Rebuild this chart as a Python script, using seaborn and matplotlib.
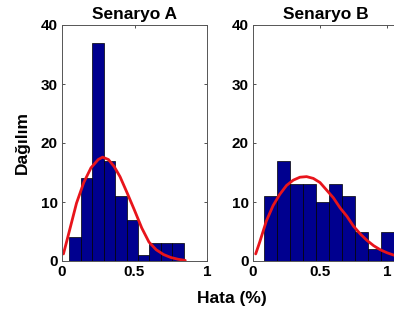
import numpy as np
import matplotlib
matplotlib.use("Agg")
import matplotlib.pyplot as plt
import seaborn as sns

# histogram data (10 bins each, counts)
edges_a = [0.051, 0.130, 0.209, 0.287, 0.366, 0.445, 0.524, 0.602, 0.681, 0.760, 0.839]
counts_a = [4, 14, 37, 17, 11, 7, 1, 3, 3, 3]

edges_b = [0.084, 0.181, 0.278, 0.375, 0.472, 0.569, 0.666, 0.763, 0.860, 0.957, 1.054]
counts_b = [11, 17, 13, 13, 10, 13, 11, 5, 2, 5]

# fitted curves
fit_a_x = [0.01, 0.05, 0.10, 0.15, 0.20, 0.25, 0.28, 0.32, 0.36, 0.40, 0.45,
           0.50, 0.55, 0.60, 0.65, 0.70, 0.75, 0.80, 0.85]
fit_a_y = [1.2, 5.0, 9.8, 13.3, 15.8, 17.2, 17.6, 17.2, 16.0, 14.3, 11.5,
           8.6, 5.6, 3.2, 1.9, 1.1, 0.6, 0.3, 0.1]

fit_b_x = [0.02, 0.05, 0.10, 0.15, 0.20, 0.25, 0.30, 0.35, 0.40, 0.45, 0.50, 0.55,
           0.60, 0.65, 0.70, 0.75, 0.80, 0.85, 0.90, 0.95, 1.00, 1.05, 1.10]
fit_b_y = [1.2, 3.2, 6.8, 9.4, 11.3, 12.8, 13.7, 14.2, 14.3, 14.0, 13.3, 12.0,
           10.7, 9.0, 7.6, 5.9, 4.6, 3.5, 2.6, 1.9, 1.4, 1.0, 0.7]

titles = ["Senaryo A", "Senaryo B"]

sns.set_style("white")
plt.rcParams["font.family"] = ["Liberation Sans", "DejaVu Sans"]
plt.rcParams["font.weight"] = "bold"
plt.rcParams["text.color"] = "black"
plt.rcParams["axes.labelcolor"] = "black"

W, H = 394, 314
fig = plt.figure(figsize=(W / 100, H / 100), dpi=100)

def px_axes(left, top, width, height):
    return fig.add_axes([left / W, 1 - (top + height) / H, width / W, height / H])

ax_a = px_axes(62, 25, 145, 236)
ax_b = px_axes(253, 25, 145, 236)

panels = [
    (ax_a, edges_a, counts_a, fit_a_x, fit_a_y, (0, 1)),
    (ax_b, edges_b, counts_b, fit_b_x, fit_b_y, (0, 1.082)),
]

for (ax, edges, counts, fx, fy, xlim), title in zip(panels, titles):
    centers = [(edges[i] + edges[i + 1]) / 2 for i in range(len(counts))]
    sns.histplot(x=centers, weights=counts, bins=edges, ax=ax,
                 color="#00008f", edgecolor="black", linewidth=0.5, alpha=1)
    sns.lineplot(x=fx, y=fy, ax=ax, color="#e8141b", linewidth=2.0)
    ax.set_xlim(*xlim)
    ax.set_ylim(0, 40)
    ax.set_xticks([0, 0.5, 1])
    ax.set_xticklabels(["0", "0.5", "1"])
    ax.set_yticks([0, 10, 20, 30, 40])
    ax.set_xlabel("")
    ax.set_ylabel("")
    ax.set_title(title, fontsize=12.5, fontweight="bold", pad=4, color="black")
    ax.tick_params(direction="in", length=2.5, width=0.6, colors="#333333",
                   labelcolor="black", labelsize=11, top=True, right=True,
                   bottom=True, left=True, pad=3)
    for s in ax.spines.values():
        s.set_color("#555555")
        s.set_linewidth(0.7)

ax_a.set_ylabel("Dağılım", fontsize=12.5, fontweight="bold", labelpad=8)
fig.text(232 / W, 1 - 298 / H, "Hata (%)", ha="center", va="center",
         fontsize=12.5, fontweight="bold")

fig.savefig("out.png", dpi=100)
